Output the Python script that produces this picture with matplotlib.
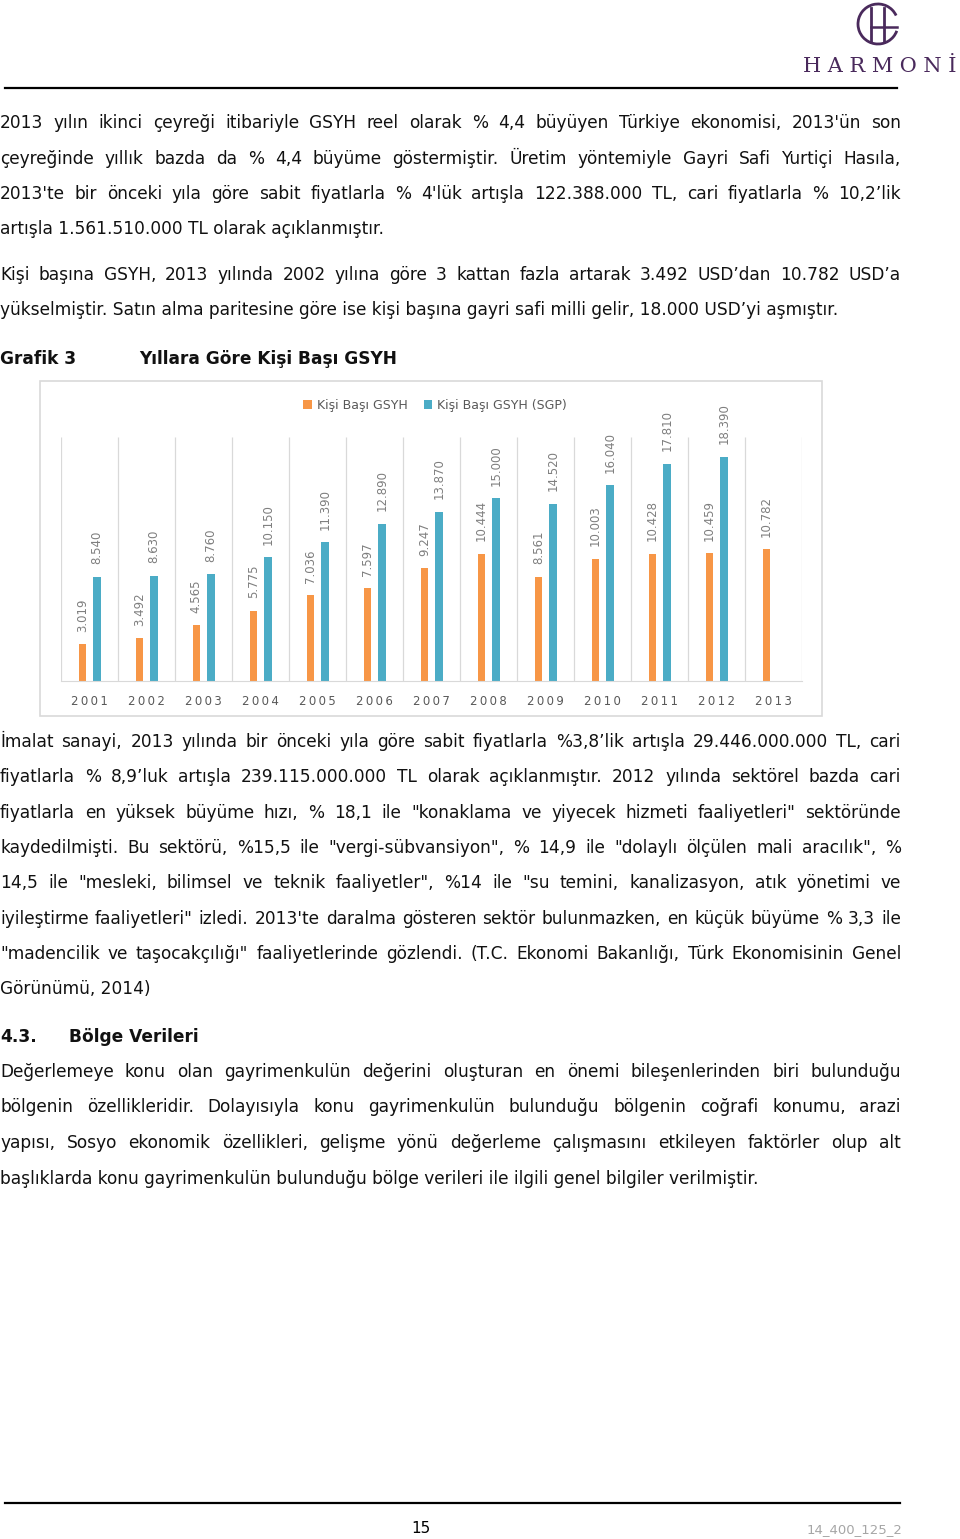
import numpy as np
import matplotlib
matplotlib.use('Agg')
import matplotlib.pyplot as plt
from matplotlib.patches import Rectangle, Arc

years = ['2001', '2002', '2003', '2004', '2005', '2006', '2007',
         '2008', '2009', '2010', '2011', '2012', '2013']
gsyh = [3019, 3492, 4565, 5775, 7036, 7597, 9247,
        10444, 8561, 10003, 10428, 10459, 10782]
gsyh_sgp = [8540, 8630, 8760, 10150, 11390, 12890, 13870,
            15000, 14520, 16040, 17810, 18390, None]
series_names = ['Kişi Başı GSYH', 'Kişi Başı GSYH (SGP)']

par1 = [
    "2013 yılın ikinci çeyreği itibariyle GSYH reel olarak % 4,4 büyüyen Türkiye ekonomisi, 2013'ün son",
    "çeyreğinde yıllık bazda da % 4,4 büyüme göstermiştir. Üretim yöntemiyle Gayri Safi Yurtiçi Hasıla,",
    "2013'te bir önceki yıla göre sabit fiyatlarla % 4'lük artışla 122.388.000 TL, cari fiyatlarla % 10,2’lik",
    "artışla 1.561.510.000 TL olarak açıklanmıştır.",
]
par2 = [
    "Kişi başına GSYH, 2013 yılında 2002 yılına göre 3 kattan fazla artarak 3.492 USD’dan 10.782 USD’a",
    "yükselmiştir. Satın alma paritesine göre ise kişi başına gayri safi milli gelir, 18.000 USD’yi aşmıştır.",
]
par3 = [
    "İmalat sanayi, 2013 yılında bir önceki yıla göre sabit fiyatlarla %3,8’lik artışla 29.446.000.000 TL, cari",
    "fiyatlarla % 8,9’luk artışla 239.115.000.000 TL olarak açıklanmıştır. 2012 yılında sektörel bazda cari",
    "fiyatlarla en yüksek büyüme hızı, % 18,1 ile \"konaklama ve yiyecek hizmeti faaliyetleri\" sektöründe",
    "kaydedilmişti. Bu sektörü, %15,5 ile \"vergi-sübvansiyon\", % 14,9 ile \"dolaylı ölçülen mali aracılık\", %",
    "14,5 ile \"mesleki, bilimsel ve teknik faaliyetler\", %14 ile \"su temini, kanalizasyon, atık yönetimi ve",
    "iyileştirme faaliyetleri\" izledi. 2013'te daralma gösteren sektör bulunmazken, en küçük büyüme % 3,3 ile",
    "\"madencilik ve taşocakçılığı\" faaliyetlerinde gözlendi. (T.C. Ekonomi Bakanlığı, Türk Ekonomisinin Genel",
    "Görünümü, 2014)",
]
par4 = [
    "Değerlemeye konu olan gayrimenkulün değerini oluşturan en önemi bileşenlerinden biri bulunduğu",
    "bölgenin özellikleridir. Dolayısıyla konu gayrimenkulün bulunduğu bölgenin coğrafi konumu, arazi",
    "yapısı, Sosyo ekonomik özellikleri, gelişme yönü değerleme çalışmasını etkileyen faktörler olup alt",
    "başlıklarda konu gayrimenkulün bulunduğu bölge verileri ile ilgili genel bilgiler verilmiştir.",
]

W, H = 960, 1539
fig = plt.figure(figsize=(W / 100, H / 100), dpi=100)
fig.patch.set_facecolor('white')

# page overlay in pixel coordinates
page = fig.add_axes([0, 0, 1, 1])
page.set_xlim(0, W)
page.set_ylim(H, 0)
page.axis('off')
renderer = fig.canvas.get_renderer()

TXT = '#111111'


def text_width(s, size, weight='normal'):
    t = page.text(0, 0, s, fontsize=size, fontweight=weight)
    w = t.get_window_extent(renderer).width
    t.remove()
    return w


# fit body font so the natural-width line matches the page
fs = 10 * 386 / text_width(par1[3], 10)
RIGHT = 901


def put_line(s, y, justify):
    if not justify:
        page.text(0, y, s, fontsize=fs, color=TXT, va='baseline')
        return
    words = s.split()
    widths = [text_width(w, fs) for w in words]
    gap = (RIGHT - sum(widths)) / (len(words) - 1)
    x = 0
    for w, wd in zip(words, widths):
        page.text(x, y, w, fontsize=fs, color=TXT, va='baseline')
        x += wd + gap


def put_par(lines, centers):
    for i, (s, c) in enumerate(zip(lines, centers)):
        put_line(s, c + 6, i < len(lines) - 1)


put_par(par1, [122, 157.5, 193, 228.5])
put_par(par2, [273.5, 309])
put_par(par3, [741, 776.5, 812, 847, 882.5, 918, 953, 988.5])
put_par(par4, [1071, 1106.5, 1142, 1177.5])

page.text(0, 364, 'Grafik 3', fontsize=fs, fontweight='bold', color=TXT, va='baseline')
page.text(139, 364, 'Yıllara Göre Kişi Başı GSYH', fontsize=fs, fontweight='bold',
          color=TXT, va='baseline')
page.text(0, 1042, '4.3.', fontsize=fs, fontweight='bold', color=TXT, va='baseline')
page.text(69, 1042, 'Bölge Verileri', fontsize=fs, fontweight='bold', color=TXT, va='baseline')

# header / footer
page.plot([5, 897], [88, 88], color='black', lw=1.6)
page.plot([5, 900], [1503, 1503], color='black', lw=1.6)
page.text(421, 1533, '15', fontsize=11, color='black', ha='center', va='baseline')
page.text(902, 1533, '14_400_125_2', fontsize=9.5, color='#a6a6a6', ha='right', va='baseline')

# logo
purple = '#4a2a5c'
page.add_patch(Arc((878, 24), 40, 40, theta1=20, theta2=335, color=purple, lw=2.0))
page.plot([871, 871], [8, 42], color=purple, lw=2.0)
page.plot([884, 884], [8, 42], color=purple, lw=2.0)
page.plot([871, 897], [27, 27], color=purple, lw=1.8)
page.text(880, 72, 'H A R M O N İ', fontsize=15, family='DejaVu Serif', color=purple,
          ha='center', va='baseline')

# chart frame
page.add_patch(Rectangle((40, 381), 782, 335, fill=False, ec='#d9d9d9', lw=1.2))

ax = fig.add_axes([61 / W, 1 - 681 / H, (802 - 61) / W, (681 - 437) / H])
ax.set_facecolor('none')
x = np.arange(len(years))
orange, blue = '#F79646', '#4BACC6'
bw = 0.135
b1 = ax.bar(x - 0.125, gsyh, bw, color=orange, label=series_names[0])
sgp_x = np.array([xi for xi, v in zip(x, gsyh_sgp) if v is not None])
sgp_v = [v for v in gsyh_sgp if v is not None]
b2 = ax.bar(sgp_x + 0.135, sgp_v, bw, color=blue, label=series_names[1])

for xs, vs in ((x - 0.125, gsyh), (sgp_x + 0.135, sgp_v)):
    for xi, v in zip(xs, vs):
        ax.annotate(f'{v:,}'.replace(',', '.'), (xi, v), xytext=(0, 9),
                    textcoords='offset points', rotation=90, ha='center', va='bottom',
                    fontsize=8.5, color='#7f7f7f')

ax.vlines(np.arange(-0.5, len(years)), 0, 20000, color='#d9d9d9', lw=0.9)
ax.set_xlim(-0.5, len(years) - 0.5)
ax.set_ylim(0, 20000)
ax.set_yticks([])
ax.set_xticks(x)
ax.set_xticklabels(['\u2009'.join(y) for y in years], fontsize=8.5, color='#595959')
ax.tick_params(axis='x', length=0, pad=10)
for s in ('top', 'left', 'right'):
    ax.spines[s].set_visible(False)
ax.spines['bottom'].set_color('#d9d9d9')

fig.legend(handles=[b1, b2], loc='center', bbox_to_anchor=(435 / W, 1 - 405 / H),
           ncol=2, frameon=False, fontsize=9, labelcolor='#595959',
           handlelength=0.7, handleheight=0.7, handletextpad=0.4, columnspacing=1.3)

fig.savefig('out.png', dpi=100, facecolor='white')
